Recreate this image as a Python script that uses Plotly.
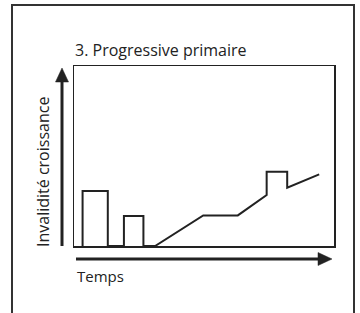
import plotly.graph_objects as go

# Data (x = time in arbitrary units 0-100, y = disability 0-10)
time = [3.3, 3.3, 13.0, 13.0, 19.2, 19.2, 26.7, 26.7, 31.2, 49.7, 63.0, 74.1, 74.1, 82.0, 82.0, 94.3]
disability = [0, 3.06, 3.06, 0, 0, 1.67, 1.67, 0, 0, 1.7, 1.7, 2.83, 4.13, 4.13, 3.24, 3.98]

title_text = "3. Progressive primaire"
y_label = "Invalidité croissance"
x_label = "Temps"

W, H = 360, 313
DARK = "#222222"
FONT = "Open Sans"


def px(x):
    return x / W


def py(y):
    return (H - y) / H


fig = go.Figure()
fig.add_trace(go.Scatter(x=time, y=disability, mode="lines",
                         line=dict(color=DARK, width=2), hoverinfo="skip",
                         showlegend=False))

fig.update_layout(
    width=W, height=H,
    margin=dict(l=0, r=0, t=0, b=0),
    paper_bgcolor="white", plot_bgcolor="white",
    xaxis=dict(domain=[px(74), px(334)], range=[0, 100], showgrid=False,
               zeroline=False, showticklabels=False, ticks="",
               showline=True, mirror=True, linecolor=DARK, linewidth=1.5,
               fixedrange=True),
    yaxis=dict(domain=[py(246), py(66)], range=[0, 10], showgrid=False,
               zeroline=False, showticklabels=False, ticks="",
               showline=True, mirror=True, linecolor=DARK, linewidth=1.5,
               fixedrange=True),
    showlegend=False,
)

shapes = []
# outer frame (open at bottom)
shapes.append(dict(type="path", xref="paper", yref="paper",
                   path=f"M {px(12)},{py(320)} L {px(12)},{py(5)} L {px(354)},{py(5)} L {px(354)},{py(320)}",
                   line=dict(color="#333333", width=2)))
# y arrow
shapes.append(dict(type="line", xref="paper", yref="paper",
                   x0=px(62), y0=py(246), x1=px(62), y1=py(80),
                   line=dict(color=DARK, width=3)))
shapes.append(dict(type="path", xref="paper", yref="paper",
                   path=f"M {px(62)},{py(68)} L {px(55.5)},{py(82)} L {px(68.5)},{py(82)} Z",
                   fillcolor=DARK, line=dict(color=DARK, width=0.5)))
# x arrow
shapes.append(dict(type="line", xref="paper", yref="paper",
                   x0=px(76), y0=py(259), x1=px(320), y1=py(259),
                   line=dict(color=DARK, width=3)))
shapes.append(dict(type="path", xref="paper", yref="paper",
                   path=f"M {px(332)},{py(259)} L {px(318)},{py(252.5)} L {px(318)},{py(265.5)} Z",
                   fillcolor=DARK, line=dict(color=DARK, width=0.5)))
fig.update_layout(shapes=shapes)

ann_font = dict(family=FONT, size=16, color=DARK)
fig.add_annotation(x=px(73), y=py(50), xref="paper", yref="paper", text=title_text,
                   showarrow=False, xanchor="left", yanchor="middle", font=ann_font)
fig.add_annotation(x=px(43), y=py(172), xref="paper", yref="paper", text=y_label,
                   showarrow=False, xanchor="center", yanchor="middle", textangle=-90,
                   font=ann_font)
fig.add_annotation(x=px(75), y=py(276), xref="paper", yref="paper", text=x_label,
                   showarrow=False, xanchor="left", yanchor="middle",
                   font=dict(family=FONT, size=15, color=DARK))

fig.write_html("out.html", config=dict(displayModeBar=False, staticPlot=True),
               post_script="document.body.style.margin='0';document.body.style.overflow='hidden';")
